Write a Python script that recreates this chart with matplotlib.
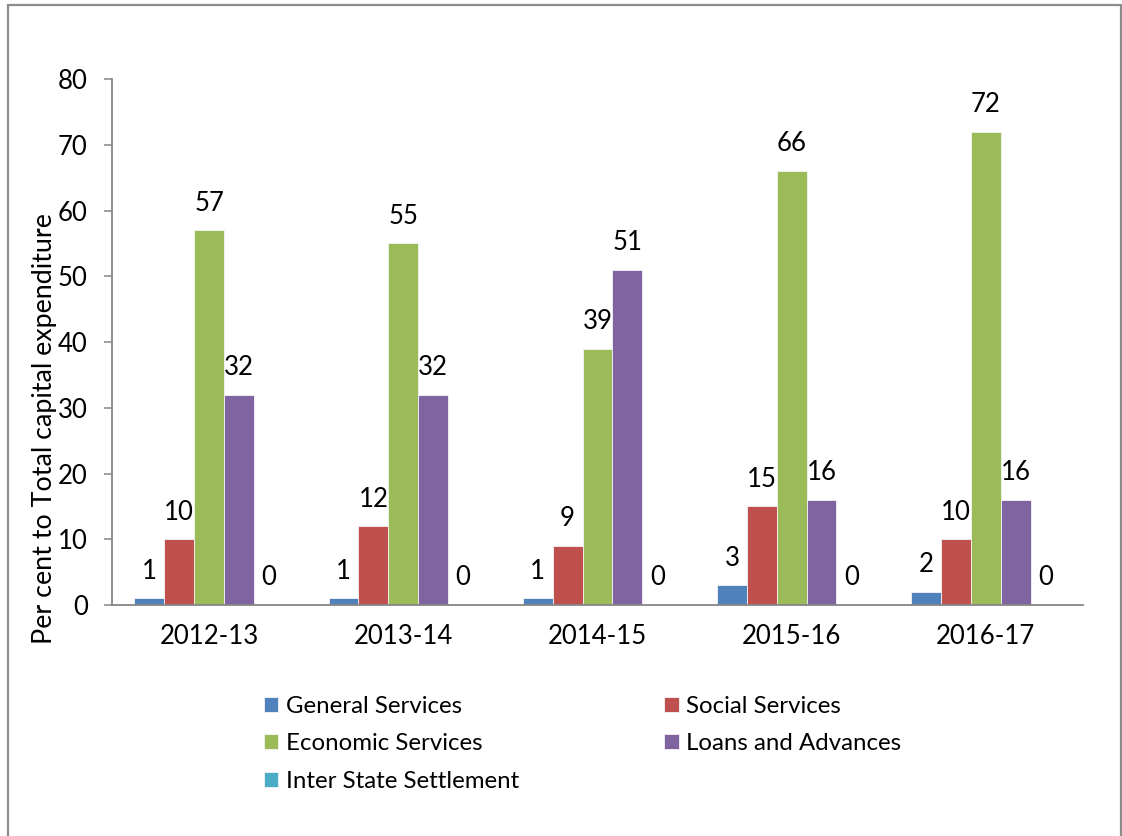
import numpy as np
import matplotlib
matplotlib.use('Agg')
import matplotlib.pyplot as plt
from matplotlib.patches import Rectangle

plt.rcParams['font.family'] = ['Lato', 'DejaVu Sans']

# Share of each sector in total capital expenditure (per cent)
years = ['2012-13', '2013-14', '2014-15', '2015-16', '2016-17']
general = [1, 1, 1, 3, 2]
social = [10, 12, 9, 15, 10]
economic = [57, 55, 39, 66, 72]
loans = [32, 32, 51, 16, 16]
inter_state = [0, 0, 0, 0, 0]

series = [
    ('General Services', general, '#4F81BD'),
    ('Social Services', social, '#C0504D'),
    ('Economic Services', economic, '#9BBB59'),
    ('Loans and Advances', loans, '#8064A2'),
    ('Inter State Settlement', inter_state, '#4BACC6'),
]

fig = plt.figure(figsize=(11.22, 8.36), dpi=100)
ax = fig.add_axes([0.0998, 0.2763, 0.8654, 0.6292])

x = np.arange(len(years))
w = 1 / 6.5
handles = {}
for i, (name, vals, col) in enumerate(series):
    pos = x + (i - 2) * w
    bars = ax.bar(pos, vals, width=w, color=col, edgecolor='#f4f4f4', linewidth=0.6)
    handles[name] = bars
    for p, v in zip(pos, vals):
        ax.annotate(str(v), (p, v), xytext=(0, 19.5), textcoords='offset points',
                    ha='center', va='center', fontsize=18.5, color='black')

ax.set_xlim(-0.5, len(years) - 0.5)
ax.set_ylim(0, 80)
ax.set_yticks(range(0, 81, 10))
ax.set_xticks(x)
ax.set_xticklabels(years)

for s in ['top', 'right']:
    ax.spines[s].set_visible(False)
for s in ['left', 'bottom']:
    ax.spines[s].set_color('#868686')
    ax.spines[s].set_linewidth(1.3)

ax.tick_params(axis='y', length=5.5, width=1.1, color='#868686', pad=12, labelsize=18.5)
ax.tick_params(axis='x', length=0, pad=14, labelsize=18.5)

fig.text(45 / 1122, 1 - 429 / 836, 'Per cent to Total capital expenditure',
         rotation=90, ha='center', va='center', fontsize=19.4)

order = ['General Services', 'Economic Services', 'Inter State Settlement',
         'Social Services', 'Loans and Advances']
fig.legend([handles[n] for n in order], order, ncol=2, frameon=False,
           loc='upper left', bbox_to_anchor=(264 / 1122, 1 - 696 / 836),
           fontsize=17.3, handlelength=0.6, handleheight=0.6,
           handletextpad=0.3, labelspacing=0.68, columnspacing=6.05,
           borderaxespad=0, borderpad=0)

# outer chart frame
fig.patches.append(Rectangle((8 / 1122, -0.02), 1113 / 1122, 1 - 5 / 836 + 0.02,
                             transform=fig.transFigure, fill=False,
                             edgecolor='#8c8c8c', linewidth=1.6))

fig.savefig('out.png', dpi=100)
